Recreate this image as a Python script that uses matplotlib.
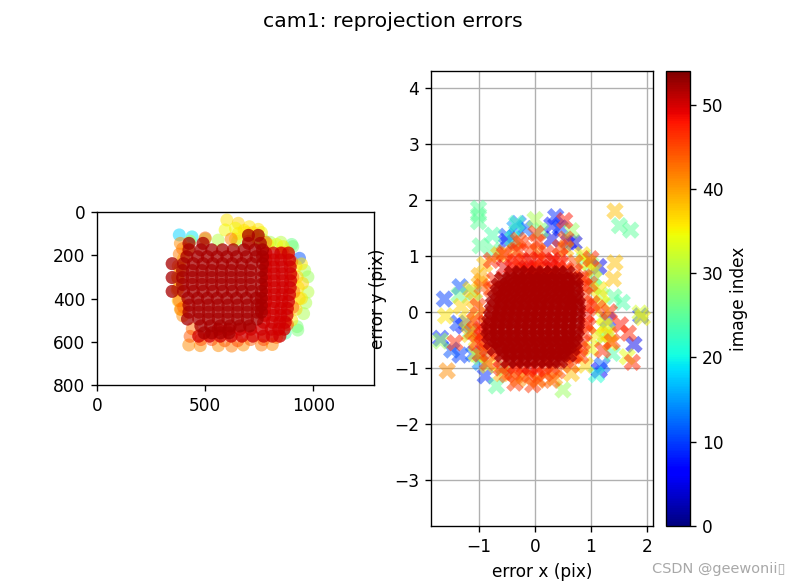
import matplotlib
matplotlib.use("Agg")
import matplotlib.pyplot as plt
from matplotlib.cm import ScalarMappable
from matplotlib.colors import Normalize

W = 786
H = 587
DPI = 122.5
N_IMAGES = 54

# left panel: detected corners in image coords, drawn low index first
corner_x_low = [380, 439, 936, 900, 905, 928, 850, 800, 770, 745, 960, 975, 975, 965, 955, 925, 870, 650, 560, 500, 430]
corner_y_low = [106, 115, 214, 150, 160, 546, 140, 140, 130, 130, 270, 300, 370, 420, 470, 530, 560, 135, 130, 125, 135]
corner_c_low = [18, 19, 11, 26, 27, 27, 31, 30, 29, 29, 30, 29, 31, 30, 30, 27, 24, 29, 31, 31, 31]

corner_x_mid = [600, 653, 704, 745, 592, 653, 700, 745, 790, 860, 920, 925, 930, 935, 920, 900, 760, 690, 640, 420, 400, 385, 375, 370, 375, 385, 640, 680, 720, 830, 880, 945, 950, 945]
corner_y_mid = [37, 52, 68, 80, 83, 99, 110, 125, 150, 160, 250, 300, 350, 400, 450, 500, 95, 95, 125, 170, 215, 260, 310, 360, 410, 450, 75, 85, 95, 150, 185, 240, 330, 400]
corner_c_mid = [36, 37, 36, 36, 35, 36, 36, 35, 35, 35, 36, 37, 36, 37, 37, 36, 35, 36, 36, 38, 38, 39, 38, 39, 38, 39, 35, 36, 37, 34, 35, 36, 37, 36]

corner_x_orange = [424, 477, 561, 622, 676, 760, 810, 385, 380, 375, 372, 375, 380, 388, 396, 440, 500, 620, 700, 780, 860, 900, 905, 910, 905, 880, 430, 480, 530, 590, 650, 710, 770, 830, 395, 400]
corner_y_orange = [615, 618, 618, 620, 615, 615, 613, 145, 195, 250, 300, 355, 410, 450, 480, 540, 120, 125, 135, 140, 190, 230, 300, 370, 440, 520, 575, 590, 590, 595, 595, 590, 590, 580, 170, 440]
corner_c_orange = [41, 41, 41, 42, 41, 42, 41, 41, 42, 42, 41, 41, 42, 42, 41, 43, 44, 42, 43, 43, 43, 42, 43, 42, 43, 46, 44, 45, 45, 44, 45, 44, 45, 44, 42, 43]

# red block on the right and bottom of the cloud, one x list per row
red_row_y = [190, 222, 254, 286, 318, 350, 382, 414, 446, 478, 510, 542, 574]
red_row_x = [[780, 815, 850, 885],
             [780, 815, 850, 890],
             [780, 815, 855, 893],
             [780, 818, 855, 895],
             [780, 818, 858, 895],
             [780, 820, 858, 893],
             [780, 820, 855, 890],
             [780, 818, 855, 885],
             [775, 815, 850, 880],
             [775, 815, 850, 878],
             [770, 810, 845, 870],
             [560, 610, 660, 710, 760, 805, 840, 865],
             [470, 520, 570, 620, 670, 720, 770, 810, 845]]
red_c = 50

# dark block, last images on top
dark_row_y = [108, 145, 175, 207, 239, 271, 303, 335, 367, 399, 431, 463, 495, 527, 559]
dark_row_x = [[700, 745],
              [425, 490, 700, 755],
              [425, 480, 530, 580, 630, 680, 730, 765],
              [415, 465, 510, 555, 600, 645, 690, 735, 765],
              [347, 400, 445, 490, 535, 580, 625, 670, 715, 765],
              [395, 440, 485, 530, 575, 620, 665, 710, 760],
              [347, 395, 440, 485, 530, 575, 620, 665, 710, 760],
              [395, 440, 485, 530, 575, 620, 665, 710, 760],
              [347, 400, 445, 490, 535, 580, 625, 670, 715, 760],
              [420, 465, 510, 555, 600, 645, 690, 735, 760],
              [425, 470, 515, 560, 605, 650, 695, 740, 760],
              [425, 470, 515, 560, 605, 650, 695, 740, 760],
              [418, 470, 515, 560, 605, 650, 695, 740],
              [480, 525, 570, 615, 660, 705],
              [495, 530, 570, 610]]
dark_c = 52

# right panel: reprojection errors, drawn low index first
err_x_low = [-1.62, -1.34, -1.69, -1.34, -1.49, -0.89, 0.37, -0.18, -0.30, -0.51, -0.51, 1.14, 1.77, 1.15, 0.70, 1.89,
             -0.36, 0.30, 0.45, -1.28, 1.20, 0.60, 0.30, -1.38, -0.98, -1.10, 1.30]
err_y_low = [0.23, 0.45, -0.47, -0.77, -0.68, -1.14, 1.70, 1.49, 1.58, 1.35, 1.26, 0.81, -0.58, -1.04, 1.23, -0.07,
             1.50, 1.55, 1.50, -0.25, -0.95, 1.25, 1.30, -0.20, -0.90, -0.75, -0.15]
err_c_low = [10, 11, 9, 10, 11, 9, 9, 12, 13, 11, 8, 5, 5, 6, 4, 9,
             15, 8, 10, 8, 12, 6, 5, 10, 14, 12, 7]

err_x_mid = [-1.01, -1.01, -1.01, -0.76, -0.98, -0.33, 1.71, 1.51, 1.41, 1.56, 1.38, -0.69, 0.50, 1.06, 0.00, -1.69,
             -1.36, -1.10, -1.15, -0.75, -0.40, 0.10, 0.65, 0.88, 1.00, 1.05, 1.18, 1.22, 1.30, -0.55, -0.98, 1.10]
err_y_mid = [1.85, 1.73, 1.61, 1.37, 1.18, 1.58, 1.46, 1.54, 0.27, 0.17, -0.74, -1.32, -1.39, 0.60, 1.65, -0.52,
             0.30, 0.35, -0.35, 1.10, 1.30, 1.45, 1.45, 0.95, 0.85, 0.45, 0.30, -0.45, -0.35, -1.00, -0.80, -1.12]
err_c_mid = [25, 25, 25, 24, 25, 23, 25, 25, 25, 24, 24, 25, 29, 24, 30, 29,
             26, 24, 23, 25, 22, 27, 29, 27, 26, 28, 30, 30, 29, 25, 27, 21]

err_x_warm = [1.43, 1.43, 1.40, -1.60, -1.57, 1.65, 1.88, 1.92, -1.32, -1.00, -1.15, -1.08, -0.90, -0.65, -0.35, 0.05,
              0.55, 0.85, 0.95, 1.05, 1.15, 1.20, 1.22, 1.10, 1.00, 0.90, 0.65, 0.35, 0.05, -0.30, -0.60, -0.85, -1.05,
              -1.18, -1.22, -1.05, -0.95, -1.02, 1.25, 1.32, 1.35]
err_y_warm = [1.80, 0.88, 0.59, -0.07, -1.05, -0.80, -0.02, -0.10, 0.10, 0.65, 0.40, 0.20, 0.85, 1.02, 1.10, 1.08,
              1.12, 1.02, 0.88, 0.75, 0.40, 0.15, -0.10, -0.40, -0.65, -0.95, -1.10, -1.18, -1.22, -1.20, -1.10, -0.95, -0.75,
              -0.40, -0.15, -0.50, 0.55, -0.05, -0.25, -0.40, -0.55]
err_c_warm = [38, 38, 38, 36, 41, 34, 33, 35, 37, 39, 37, 38, 38, 38, 40, 41,
              38, 36, 35, 37, 36, 35, 34, 36, 35, 37, 38, 40, 42, 41, 39, 36, 34,
              37, 36, 35, 40, 38, 35, 37, 36]

err_x_red = [0.02, 0.53, 1.00, -0.36, -0.04, 1.53, 1.67, 1.21, 1.74, 1.33, 1.12, 1.38, -1.43, 0.05, -0.25, 0.45, 0.55, -0.55, -0.30,
             -0.78, -0.55, -0.30, -0.05, 0.20, 0.45, 0.72, -0.95, -1.02, -1.08, -1.12, -1.05, -0.98, -0.85, -0.60, -0.40, -0.10, 0.18, 0.40, 0.65, 0.82,
             0.98, 1.02, 0.95, 0.72, 0.05, -0.20, 0.30, -0.50, -0.80, 0.88]
err_y_red = [1.40, 1.63, 0.95, -1.27, -1.30, -0.23, -0.38, -0.68, -0.90, 0.00, 0.07, -0.53, -0.55, 1.25, 1.22, 1.15, 1.30, 1.05, 1.28,
             0.92, 1.02, 1.08, 1.12, 1.05, 1.00, 0.88, 0.45, 0.10, -0.15, -0.35, -0.55, -0.75, -0.90, -1.00, -1.08, -1.12, -1.10, -1.05, -0.95, -0.78,
             0.50, 0.15, -0.25, -0.75, -1.20, -1.15, -1.22, -1.12, -0.72, 0.62]
err_c_red = [46, 48, 47, 46, 46, 48, 47, 47, 47, 47, 46, 46, 47, 46, 46, 46, 45, 44, 45,
             47, 46, 47, 46, 47, 46, 45, 44, 46, 47, 44, 47, 46, 45, 47, 46, 47, 46, 45, 44, 46,
             45, 46, 47, 44, 44, 43, 44, 45, 44, 46]

# red rim round the dense middle, brighter than the core
rim_x = [-0.35, -0.22, -0.08, 0.05, 0.18, 0.32, 0.45, -0.55, -0.42, -0.28, -0.15, 0.00, 0.12, 0.27, 0.41, 0.55, 0.70,
         -0.72, 0.82, 0.88, 0.90, 0.92, 0.92, 0.90, 0.88, 0.85, 0.80, 0.70, -0.97, -0.95, -0.92, -0.88, -0.85, -0.78,
         -0.35, -0.22, -0.09, 0.04, 0.17, 0.30, -0.60, 0.55, 0.02, 0.18, 0.30, -0.12]
rim_y = [0.90, 0.90, 0.92, 0.94, 0.90, 0.92, 0.88, 0.79, 0.80, 0.82, 0.78, 0.81, 0.79, 0.80, 0.78, 0.76, 0.72,
         0.57, 0.60, 0.46, 0.30, 0.10, -0.05, -0.20, -0.38, -0.55, -0.66, -0.78, -0.31, -0.42, -0.53, -0.20, -0.66, 0.40,
         -0.97, -1.00, -0.98, -1.02, -0.97, -0.98, -0.86, -0.86, 0.66, 0.60, 0.68, 0.72]
rim_c = [48, 47, 49, 48, 47, 49, 48, 49, 48, 47, 49, 48, 47, 49, 48, 47, 46,
         47, 46, 47, 46, 47, 48, 47, 46, 47, 46, 47, 47, 48, 47, 48, 47, 46,
         48, 47, 49, 48, 47, 46, 47, 46, 48, 48, 47, 48]

# dense middle of the error cloud, one x list per row
core_row_y = [0.68, 0.57, 0.46, 0.35, 0.24, 0.13, 0.02, -0.09, -0.20, -0.31, -0.42, -0.53, -0.64, -0.75, -0.86]
core_row_x = [[-0.40, -0.27, -0.13, 0.02, 0.15, 0.30, 0.43, 0.57],
              [-0.58, -0.45, -0.31, -0.18, -0.04, 0.09, 0.23, 0.37, 0.50, 0.64, 0.72],
              [-0.64, -0.50, -0.37, -0.23, -0.10, 0.04, 0.18, 0.31, 0.45, 0.58, 0.72],
              [-0.66, -0.52, -0.39, -0.25, -0.11, 0.02, 0.16, 0.30, 0.44, 0.57, 0.71],
              [-0.71, -0.57, -0.43, -0.29, -0.16, -0.02, 0.11, 0.25, 0.39, 0.52, 0.66, 0.74],
              [-0.74, -0.60, -0.46, -0.33, -0.19, -0.05, 0.09, 0.22, 0.36, 0.50, 0.64, 0.76],
              [-0.76, -0.62, -0.48, -0.34, -0.20, -0.07, 0.07, 0.21, 0.35, 0.49, 0.62, 0.76],
              [-0.78, -0.64, -0.50, -0.36, -0.22, -0.08, 0.06, 0.20, 0.34, 0.47, 0.61, 0.75],
              [-0.81, -0.67, -0.53, -0.38, -0.24, -0.10, 0.04, 0.18, 0.32, 0.46, 0.60, 0.74],
              [-0.83, -0.68, -0.54, -0.40, -0.26, -0.11, 0.03, 0.17, 0.31, 0.45, 0.60, 0.74],
              [-0.81, -0.67, -0.53, -0.39, -0.25, -0.11, 0.03, 0.17, 0.31, 0.45, 0.59, 0.72],
              [-0.78, -0.64, -0.50, -0.36, -0.22, -0.08, 0.06, 0.20, 0.33, 0.47, 0.60, 0.70],
              [-0.71, -0.57, -0.44, -0.30, -0.16, -0.03, 0.11, 0.25, 0.39, 0.53, 0.66],
              [-0.58, -0.45, -0.31, -0.18, -0.04, 0.09, 0.22, 0.36, 0.49, 0.60],
              [-0.47, -0.33, -0.20, -0.07, 0.06, 0.19, 0.32, 0.44]]
core_c = 52

x_tick_left = [0, 500, 1000]
y_tick_left = [0, 200, 400, 600, 800]
x_tick_right = [-1, 0, 1, 2]
y_tick_right = [-3, -2, -1, 0, 1, 2, 3, 4]
cbar_ticks = [0, 10, 20, 30, 40, 50]


def box(x0, y0, x1, y1):
    # pixel box from the top left, to figure fractions
    return [x0 / W, 1 - y1 / H, (x1 - x0) / W, (y1 - y0) / H]


def expand_rows(row_y, row_x):
    xs = []
    ys = []
    for y, row in zip(row_y, row_x):
        xs += row
        ys += [y] * len(row)
    return xs, ys


fig = plt.figure(figsize=(W / DPI, H / DPI), dpi=DPI)
norm = Normalize(0, N_IMAGES)
left_style = dict(s=58, cmap="jet", norm=norm, alpha=0.5, linewidths=0)
right_style = dict(s=105, marker="X", cmap="jet", norm=norm, alpha=0.5, linewidths=0, zorder=3)

ax1 = fig.add_axes(box(96, 212, 375, 385))
ax1.scatter(corner_x_low + corner_x_mid + corner_x_orange,
            corner_y_low + corner_y_mid + corner_y_orange,
            c=corner_c_low + corner_c_mid + corner_c_orange, **left_style)
red_x, red_y = expand_rows(red_row_y, red_row_x)
dark_x, dark_y = expand_rows(dark_row_y, dark_row_x)
# many images share these spots, so the block saturates
for _ in range(2):
    ax1.scatter(red_x, red_y, c=[red_c] * len(red_x), **left_style)
for _ in range(2):
    ax1.scatter(dark_x, dark_y, c=[dark_c] * len(dark_x), **left_style)
ax1.set_xlim(0, 1280)
ax1.set_ylim(800, 0)
ax1.set_aspect("equal")
ax1.set_xticks(x_tick_left)
ax1.set_yticks(y_tick_left)

ax2 = fig.add_axes(box(431, 71, 653, 526))
ax2.scatter(err_x_low + err_x_mid + err_x_warm + err_x_red + rim_x,
            err_y_low + err_y_mid + err_y_warm + err_y_red + rim_y,
            c=err_c_low + err_c_mid + err_c_warm + err_c_red + rim_c, **right_style)
core_x, core_y = expand_rows(core_row_y, core_row_x)
for _ in range(2):
    ax2.scatter(core_x, core_y, c=[core_c] * len(core_x), **right_style)
ax2.set_xlim(-1.86, 2.11)
ax2.set_ylim(-3.82, 4.3)
ax2.set_xticks(x_tick_right)
ax2.set_yticks(y_tick_right)
ax2.grid(True)
ax2.set_xlabel("error x (pix)")
ax2.set_ylabel("error y (pix)")

cax = fig.add_axes(box(666, 71, 690, 526))
cb = fig.colorbar(ScalarMappable(norm=norm, cmap="jet"), cax=cax)
cb.set_ticks(cbar_ticks)
cb.set_label("image index")

fig.suptitle("cam1: reprojection errors", x=0.5, y=0.98)
fig.text(652 / W, 1 - 569 / H, "CSDN @geewonii\u25af", fontsize=8.5, color="#a8a8a8", va="center")

fig.savefig("out.png", dpi=DPI)
